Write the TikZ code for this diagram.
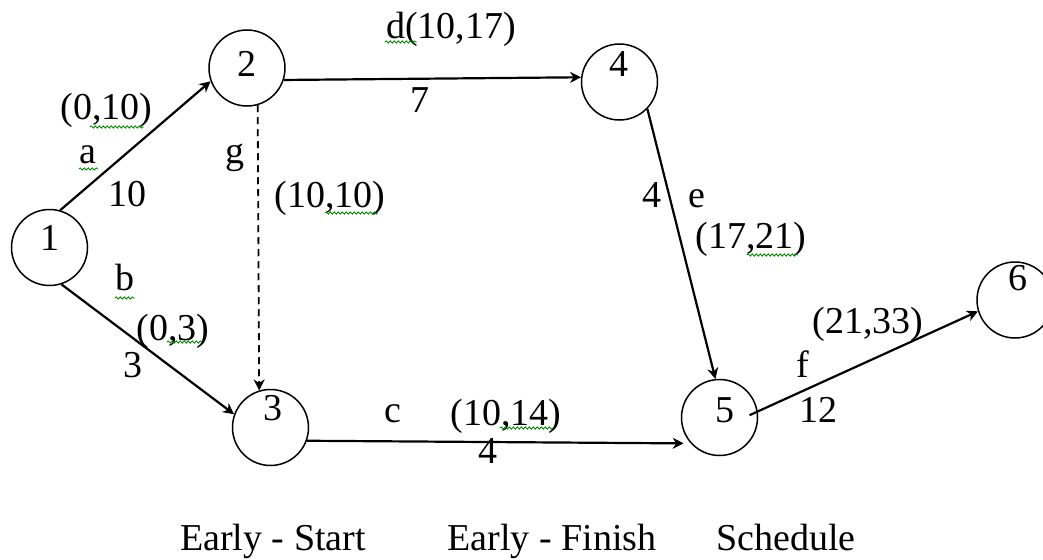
\documentclass[tikz,border=0pt]{standalone}
\usepackage{fontspec}
\setmainfont{Liberation Serif}
\usetikzlibrary{arrows.meta,decorations.pathmorphing,calc}
\begin{document}
\begin{tikzpicture}[x=1pt,y=-1pt,
  every node/.style={font=\fontsize{38}{40}\selectfont, inner sep=0pt},
  vertex/.style={circle, draw, line width=1.5pt, minimum size=76pt, inner sep=0pt},
  lbl/.style={anchor=base},
  edge/.style={line width=2.2pt, -{Stealth[length=11pt,width=11pt,inset=3.5pt]}},
  dashedge/.style={edge, line width=1.8pt, dash pattern=on 7pt off 5pt},
  squig/.style={draw=green!55!black, line width=0.9pt, decorate, decoration={snake, amplitude=1.1pt, segment length=4pt}}]
\useasboundingbox (0,0) rectangle (1043,559);
% event circles
\node[vertex] (n1) at (49.5,247.5) {};
\node[vertex] (n2) at (247,68) {};
\node[vertex] (n4) at (619.5,82) {};
\node[vertex] (n3) at (270.5,427.5) {};
\node[vertex] (n5) at (719.5,417.5) {};
\node[vertex] (n6) at (1015,300) {};
% circle numbers
\node[lbl] (t1) at (50,250) {1};
\node[lbl] (t2) at (247,77) {2};
\node[lbl] (t4) at (619,77) {4};
\node[lbl] (t3) at (273,420) {3};
\node[lbl] (t5) at (725,422) {5};
\node[lbl] (t6) at (1018,290) {6};
% activities
\draw[edge] (n1.74) -- (n2.200);
\draw[edge] (n2.-18) -- (n4.173);
\draw[dashedge] (n2.-74) -- (n3.107);
\draw[edge] (n1.-72) -- (n3.160);
\draw[edge, shorten >=7pt] (n3.-20) -- (n5.222);
\draw[edge] (n4.-44) -- (n5.96);
\draw[edge, shorten <=-9pt] (n5.9) -- (n6.197);
% edge labels
\node[lbl] (la1) at (106.5,120) {(0,10)};
\node[lbl] (la2) at (88,163) {a};
\node[lbl] (la3) at (127,206) {10};
\node[lbl] (lg1) at (235,163) {g};
\node[lbl] (lg2) at (330,207) {(10,10)};
\node[lbl] (ld1) at (451,39) {d(10,17)};
\node[lbl] (ld2) at (420,113) {7};
\node[lbl] (le1) at (652,207) {4};
\node[lbl] (le2) at (697,207) {e};
\node[lbl] (le3) at (751,248) {(17,21)};
\node[lbl] (lb1) at (125,290) {b};
\node[lbl] (lb2) at (173,340) {(0,3)};
\node[lbl] (lb3) at (133,377) {3};
\node[lbl] (lc1) at (393,422) {c};
\node[lbl] (lc2) at (506,425) {(10,14)};
\node[lbl] (lc3) at (488,463) {4};
\node[lbl] (lf1) at (868,333) {(21,33)};
\node[lbl] (lf2) at (803,377) {f};
\node[lbl] (lf3) at (818,422) {12};
% captions
\node[lbl] (c1) at (273,550) {Early - Start};
\node[lbl] (c2) at (552,550) {Early - Finish};
\node[lbl] (c3) at (786,550) {Schedule};
% spell-check squiggles
\draw[squig] (90,127) -- (144,127);
\draw[squig] (79,169) -- (98,169);
\draw[squig] (325,213) -- (378,213);
\draw[squig] (385,42) -- (417,42);
\draw[squig] (747,255) -- (798,255);
\draw[squig] (115,298) -- (135,298);
\draw[squig] (167,342) -- (202,342);
\draw[squig] (500,428) -- (553,428);
\end{tikzpicture}
\end{document}
